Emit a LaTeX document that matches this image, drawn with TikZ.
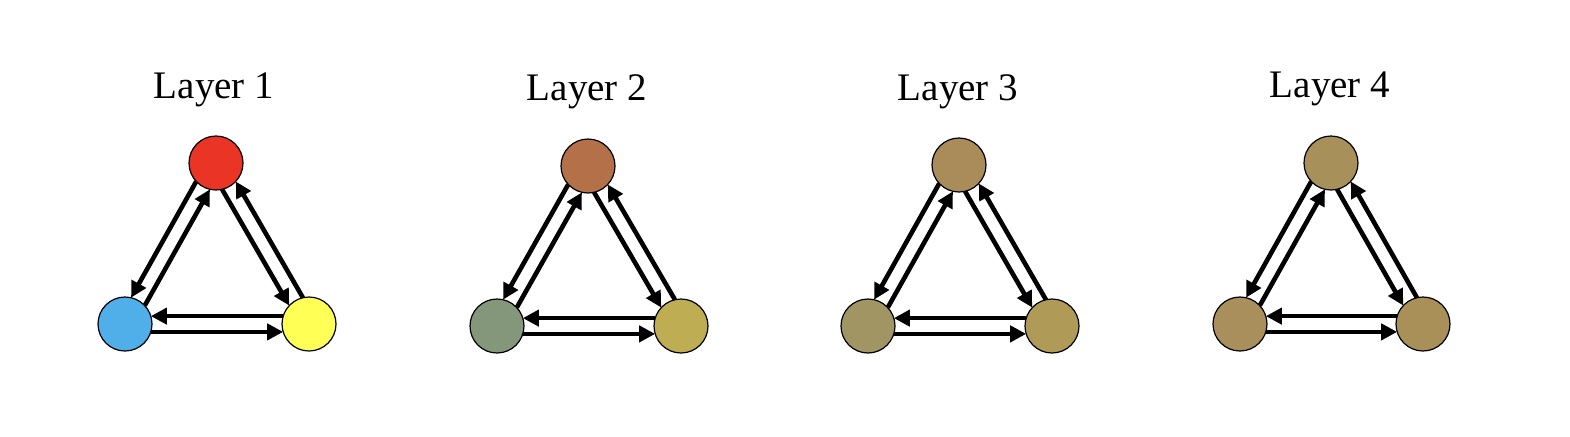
\documentclass[tikz,border=0pt]{standalone}
\usepackage{fontspec}
\setmainfont{Liberation Serif}
\usepackage{xcolor}
\usetikzlibrary{arrows.meta}
\definecolor{redA}{HTML}{EA3526}
\definecolor{blueA}{HTML}{50AEE8}
\definecolor{yellowA}{HTML}{FFFF55}
\definecolor{topB}{HTML}{B47149}
\definecolor{leftB}{HTML}{85977B}
\definecolor{rightB}{HTML}{BEAD52}
\definecolor{topC}{HTML}{AA8B5A}
\definecolor{leftC}{HTML}{A29564}
\definecolor{rightC}{HTML}{AF9A58}
\definecolor{topD}{HTML}{A8905B}
\definecolor{leftD}{HTML}{A88F5C}
\definecolor{rightD}{HTML}{A99059}

\tikzset{
  unit/.style={circle,draw=black,line width=0.6pt,minimum size=27pt,inner sep=0pt,outer sep=0pt},
  link/.style={line width=2.3pt,-{Triangle[length=8pt,width=8pt]}},
  layername/.style={anchor=base,inner sep=0pt,font=\fontsize{19.5}{22}\selectfont}
}

\begin{document}
\begin{tikzpicture}[x=0.5pt,y=0.5pt,yscale=-1]
\useasboundingbox (0,0) rectangle (1570,436);

%Layer 1
% Text Node
\node[layername] (lab1) at (214,98) {Layer 1};
%Shape: Circle
\node[unit,fill=redA] (t1) at (216,163) {};
%Shape: Circle
\node[unit,fill=blueA] (l1) at (125,324) {};
%Shape: Circle
\node[unit,fill=yellowA] (r1) at (309,324) {};
%Arrows
\draw[link] (t1.223) -- (l1.77);
\draw[link] (l1.43) -- (t1.257);
\draw[link] (t1.283) -- (r1.137);
\draw[link] (r1.103) -- (t1.317);
\draw[link] (l1.-17) -- (r1.197);
\draw[link] (r1.163) -- (l1.17);

%Layer 2
% Text Node
\node[layername] (lab2) at (587,100) {Layer 2};
%Shape: Circle
\node[unit,fill=topB] (t2) at (588,166) {};
%Shape: Circle
\node[unit,fill=leftB] (l2) at (497,326) {};
%Shape: Circle
\node[unit,fill=rightB] (r2) at (681,326) {};
%Arrows
\draw[link] (t2.223) -- (l2.77);
\draw[link] (l2.43) -- (t2.257);
\draw[link] (t2.283) -- (r2.137);
\draw[link] (r2.103) -- (t2.317);
\draw[link] (l2.-17) -- (r2.197);
\draw[link] (r2.163) -- (l2.17);

%Layer 3
% Text Node
\node[layername] (lab3) at (958,100) {Layer 3};
%Shape: Circle
\node[unit,fill=topC] (t3) at (959,165) {};
%Shape: Circle
\node[unit,fill=leftC] (l3) at (868,326) {};
%Shape: Circle
\node[unit,fill=rightC] (r3) at (1052,326) {};
%Arrows
\draw[link] (t3.223) -- (l3.77);
\draw[link] (l3.43) -- (t3.257);
\draw[link] (t3.283) -- (r3.137);
\draw[link] (r3.103) -- (t3.317);
\draw[link] (l3.-17) -- (r3.197);
\draw[link] (r3.163) -- (l3.17);

%Layer 4
% Text Node
\node[layername] (lab4) at (1330,97) {Layer 4};
%Shape: Circle
\node[unit,fill=topD] (t4) at (1331,163) {};
%Shape: Circle
\node[unit,fill=leftD] (l4) at (1240,324) {};
%Shape: Circle
\node[unit,fill=rightD] (r4) at (1423,324) {};
%Arrows
\draw[link] (t4.223) -- (l4.77);
\draw[link] (l4.43) -- (t4.257);
\draw[link] (t4.283) -- (r4.137);
\draw[link] (r4.103) -- (t4.317);
\draw[link] (l4.-17) -- (r4.197);
\draw[link] (r4.163) -- (l4.17);
\end{tikzpicture}
\end{document}
